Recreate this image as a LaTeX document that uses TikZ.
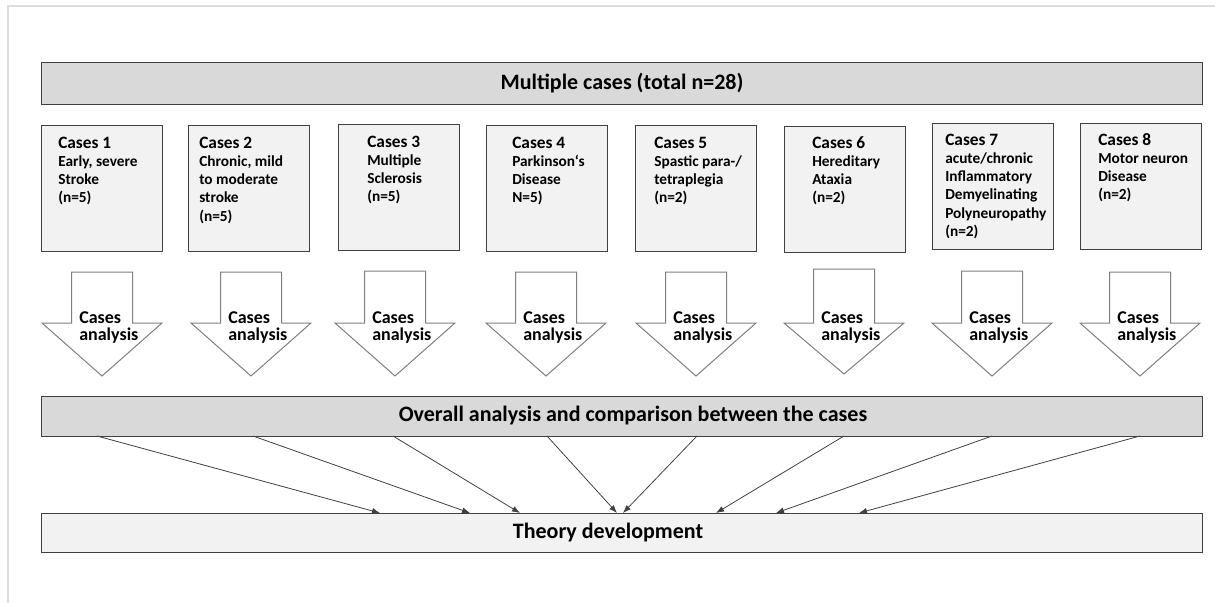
\documentclass[tikz,border=0pt]{standalone}
\usepackage{fontspec}
\setmainfont{Carlito}
\usetikzlibrary{arrows.meta}
\definecolor{darkfill}{HTML}{D9D9D9}
\definecolor{lightfill}{HTML}{F2F2F2}
\definecolor{edgecol}{HTML}{404040}
\definecolor{arrowcol}{HTML}{7F7F7F}
\definecolor{framecol}{HTML}{DCDCDC}
\newcommand{\casetxt}[2]{\parbox[t]{150pt}{\raggedright\bfseries\fontsize{11.5}{13.7}\selectfont{\fontsize{13}{13.7}\selectfont #1\par}#2}}
\newcommand{\arrtxt}{\parbox[t]{60pt}{\raggedright\bfseries\fontsize{13.5}{12.9}\selectfont Cases\\analysis}}
\begin{document}
\begin{tikzpicture}[x=0.75pt,y=-0.75pt,
  bar/.style={draw=edgecol, line width=0.75pt, inner sep=0, anchor=north west, minimum width=870.75pt},
  casebox/.style={draw=edgecol, line width=0.75pt, fill=lightfill, inner sep=0, anchor=north west, minimum width=90.75pt, minimum height=94.5pt},
  casetext/.style={anchor=base west, inner sep=0},
  bartext/.style={inner sep=0, font=\bfseries\fontsize{16.5}{18}\selectfont},
  blockarrow/.style={draw=arrowcol, line width=0.75pt, fill=white},
  conn/.style={draw=edgecol, line width=0.6pt, -{Latex[length=6pt,width=4.5pt]}},
]
\useasboundingbox (0,0) rectangle (1215,603);
% frame
\draw[framecol, line width=1.5pt] (8,603) -- (8,6) -- (1215,6);

% top bar
\node[bar, fill=darkfill, minimum height=31.5pt] (title) at (41,62) {};
\node[bartext] (titlelabel) at (622,83) {Multiple cases (total n=28)};

% case boxes
\node[casebox] (c1) at (41,125) {};
\node[casebox] (c2) at (188,125) {};
\node[casebox] (c3) at (338,124) {};
\node[casebox] (c4) at (486,125) {};
\node[casebox] (c5) at (635,125) {};
\node[casebox] (c6) at (784,126) {};
\node[casebox] (c7) at (932,123) {};
\node[casebox] (c8) at (1080,123) {};

\node[casetext] (t1) at (58,148) {\casetxt{Cases 1}{Early, severe\\Stroke\\(n=5)}};
\node[casetext] (t2) at (199,148) {\casetxt{Cases 2}{Chronic, mild\\to moderate\\stroke\\(n=5)}};
\node[casetext] (t3) at (367,147) {\casetxt{Cases 3}{Multiple\\Sclerosis\\(n=5)}};
\node[casetext] (t4) at (512,148) {\casetxt{Cases 4}{Parkinson‘s\\Disease\\N=5)}};
\node[casetext] (t5) at (654,148) {\casetxt{Cases 5}{Spastic para-/\\tetraplegia\\(n=2)}};
\node[casetext] (t6) at (812,148) {\casetxt{Cases 6}{Hereditary\\Ataxia\\(n=2)}};
\node[casetext] (t7) at (945,145) {\casetxt{Cases 7}{acute/chronic\\Inflammatory\\Demyelinating\\Polyneuropathy\\(n=2)}};
\node[casetext] (t8) at (1098,145) {\casetxt{Cases 8}{Motor neuron\\Disease\\(n=2)}};

% block arrows
\foreach \i/\c/\t/\p in {1/102/272/376, 2/251/272/376, 3/395/271/376, 4/546/272/376, 5/696/272/376, 6/844/269/374, 7/992/271/376, 8/1140/272/376}{
  \draw[blockarrow] (\c-30.5,\t) -- (\c+30.5,\t) -- (\c+30.5,323) -- (\c+60,323) -- (\c,\p) -- (\c-60,323) -- (\c-30.5,323) -- cycle;
  \node[casetext] (a\i) at (\c-23,323) {\arrtxt};
}

% overall bar
\node[bar, fill=darkfill, minimum height=30pt] (overall) at (41,396) {};
\node[bartext] (overalllabel) at (633,416) {Overall analysis and comparison between the cases};

% theory bar
\node[bar, fill=lightfill, minimum height=29.25pt] (theory) at (41,513) {};
\node[bartext] (theorylabel) at (608,532.5) {Theory development};

% connectors
\foreach \i/\s/\e in {1/97/380, 2/253/470, 3/393/520, 4/547/617, 5/697/623, 6/844/716, 7/992/776, 8/1140/859}{
  \coordinate (o\i) at (\s,436);
  \coordinate (d\i) at (\e,513);
  \draw[conn] (o\i) -- (d\i);
}
\end{tikzpicture}
\end{document}
